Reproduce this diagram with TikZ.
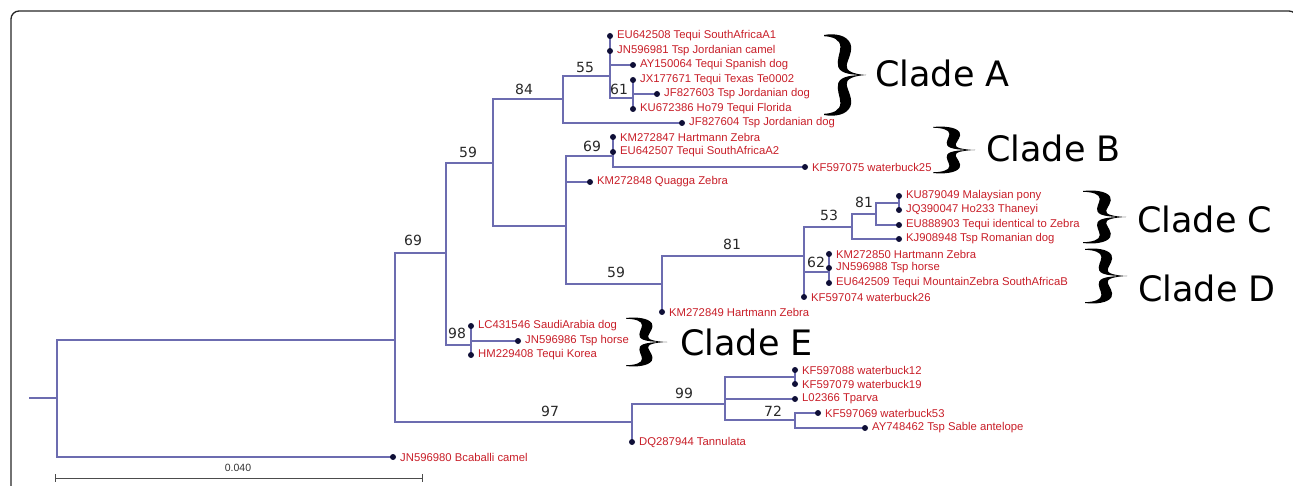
\documentclass[tikz,border=0pt]{standalone}
\usepackage{fontspec}
\newfontfamily\labfont{Liberation Sans}
\newfontfamily\numfont{DejaVu Sans}
\definecolor{treec}{RGB}{108,108,176}
\definecolor{dotc}{RGB}{15,15,55}
\definecolor{labc}{RGB}{200,30,40}
\definecolor{numc}{RGB}{40,40,40}
\tikzset{
 branch/.style={draw=treec, line width=1.15pt},
 leafdot/.style={circle, fill=dotc, inner sep=0pt, minimum size=6pt},
 leaflab/.style={anchor=west, inner sep=0pt, text=labc, font=\labfont\fontsize{11.3}{13}\selectfont},
 boot/.style={inner sep=0pt, text=numc, font=\numfont\fontsize{14}{16}\selectfont},
 cladelab/.style={anchor=west, inner sep=0pt, text=black, font=\numfont\fontsize{35}{40}\selectfont},
 frame/.style={draw=black!85, line width=1.3pt, rounded corners=8pt},
 scalebar/.style={draw=black!70, line width=1pt},
 scaletext/.style={inner sep=0pt, text=black!80, font=\labfont\fontsize{10.5}{12}\selectfont},
 bracefill/.style={fill=black},
}
\newcommand{\bracearm}{%
 (0,-1) .. controls (0.25,-1.05) and (0.55,-1.0) .. (0.63,-0.78)
 .. controls (0.69,-0.6) and (0.57,-0.4) .. (0.54,-0.25)
 .. controls (0.51,-0.1) and (0.7,-0.02) .. (1,0)
 .. controls (0.7,0.0) and (0.4,-0.02) .. (0.34,-0.2)
 .. controls (0.29,-0.36) and (0.39,-0.55) .. (0.39,-0.7)
 .. controls (0.39,-0.88) and (0.22,-0.96) .. (0,-0.97) -- cycle}
\newcommand{\cladebrace}[4]{%
 \begin{scope}[shift={(#1,#2)}, xscale=#3, yscale=#4]
 \fill[bracefill] \bracearm;
 \begin{scope}[yscale=-1]
 \fill[bracefill] \bracearm;
 \end{scope}
 \end{scope}}
\def\leaves{L1/610/36/EU642508 Tequi SouthAfricaA1,
L2/610/51/JN596981 Tsp Jordanian camel,
L3/633/65/AY150064 Tequi Spanish dog,
L4/633/80/JX177671 Tequi Texas Te0002,
L5/657/94/JF827603 Tsp Jordanian dog,
L6/633/109/KU672386 Ho79 Tequi Florida,
L7/682/123/JF827604 Tsp Jordanian dog,
L8/613/137/KM272847 Hartmann Zebra,
L9/613/152/EU642507 Tequi SouthAfricaA2,
L10/805/167/KF597075 waterbuck25,
L11/590/182/KM272848 Quagga Zebra,
L12/899/196/KU879049 Malaysian pony,
L13/899/210/JQ390047 Ho233 Thaneyi,
L14/899/225/EU888903 Tequi identical to Zebra,
L15/899/239/KJ908948 Tsp Romanian dog,
L16/829/254/KM272850 Hartmann Zebra,
L17/829/268/JN596988 Tsp horse,
L18/829/283/EU642509 Tequi MountainZebra SouthAfricaB,
L19/804/297/KF597074 waterbuck26,
L20/662/312/KM272849 Hartmann Zebra,
L21/471/326/LC431546 SaudiArabia dog,
L22/518/341/JN596986 Tsp horse,
L23/471/355/HM229408 Tequi Korea,
L24/795/370/KF597088 waterbuck12,
L25/795/384/KF597079 waterbuck19,
L26/795/399/L02366 Tparva,
L27/818/413/KF597069 waterbuck53,
L28/865/428/AY748462 Tsp Sable antelope,
L29/632/442/DQ287944 Tannulata,
L30/393/457/JN596980 Bcaballi camel}
\begin{document}
\begin{tikzpicture}[x=1pt,y=-1pt]
\useasboundingbox (0,0) rectangle (1293,486);
% frame
\draw[frame] (11,492) -- (11,11) -- (1297,11) -- (1297,492);
% leaf positions
\foreach \n/\x/\y/\t in \leaves { \coordinate (\n) at (\x,\y); }
% internal nodes
\coordinate (rs) at (29,398);
\coordinate (r) at (57,398);
\coordinate (n69) at (395,340);
\coordinate (n59u) at (446,253);
\coordinate (n97) at (632,422);
\coordinate (n84) at (493,163);
\coordinate (nE) at (471,345);
\coordinate (n55) at (563,99);
\coordinate (nBQ) at (566,226);
\coordinate (nAi) at (610,76);
\coordinate (n61) at (633,98);
\coordinate (nB) at (613,156);
\coordinate (n59l) at (662,284);
\coordinate (n81) at (804,256);
\coordinate (n53) at (852,227);
\coordinate (n81i) at (876,214);
\coordinate (npair) at (899,203);
\coordinate (n62) at (829,272);
\coordinate (n99) at (725,404);
\coordinate (nwp) at (795,377);
\coordinate (n72) at (795,420);
% branches
\draw[branch] (rs) -- (r);
\draw[branch] (r) |- (n69); \draw[branch] (r) |- (L30);
\draw[branch] (n69) |- (n59u); \draw[branch] (n69) |- (n97);
\draw[branch] (n59u) |- (n84); \draw[branch] (n59u) |- (nE);
\draw[branch] (n84) |- (n55); \draw[branch] (n84) |- (nBQ);
\draw[branch] (n55) |- (nAi); \draw[branch] (n55) |- (L7);
\draw[branch] (nAi) |- (L1); \draw[branch] (nAi) |- (L2);
\draw[branch] (nAi) |- (L3); \draw[branch] (nAi) |- (n61);
\draw[branch] (n61) |- (L4); \draw[branch] (n61) |- (L5); \draw[branch] (n61) |- (L6);
\draw[branch] (nBQ) |- (nB); \draw[branch] (nBQ) |- (L11); \draw[branch] (nBQ) |- (n59l);
\draw[branch] (nB) |- (L8); \draw[branch] (nB) |- (L9); \draw[branch] (nB) |- (L10);
\draw[branch] (n59l) |- (n81); \draw[branch] (n59l) |- (L20);
\draw[branch] (n81) |- (n53); \draw[branch] (n81) |- (n62); \draw[branch] (n81) |- (L19);
\draw[branch] (n53) |- (n81i); \draw[branch] (n53) |- (L15);
\draw[branch] (n81i) |- (npair); \draw[branch] (n81i) |- (L14);
\draw[branch] (npair) |- (L12); \draw[branch] (npair) |- (L13);
\draw[branch] (n62) |- (L16); \draw[branch] (n62) |- (L17); \draw[branch] (n62) |- (L18);
\draw[branch] (nE) |- (L21); \draw[branch] (nE) |- (L22); \draw[branch] (nE) |- (L23);
\draw[branch] (n97) |- (n99); \draw[branch] (n97) |- (L29);
\draw[branch] (n99) |- (nwp); \draw[branch] (n99) |- (L26); \draw[branch] (n99) |- (n72);
\draw[branch] (nwp) |- (L24); \draw[branch] (nwp) |- (L25);
\draw[branch] (n72) |- (L27); \draw[branch] (n72) |- (L28);
% leaf dots and labels
\foreach \n/\x/\y/\t in \leaves {
 \node[leafdot] (d\n) at (\n) {};
 \node[leaflab] (t\n) at ([xshift=7pt]\n) {\t};
}
% bootstrap values
\node[boot] (b69) at (413,240) {69};
\node[boot] (b59u) at (468,152) {59};
\node[boot] (b84) at (524,89) {84};
\node[boot] (b55) at (585,67) {55};
\node[boot] (b61) at (619,89) {61};
\node[boot] (b69B) at (592,146) {69};
\node[boot] (b59l) at (616,272) {59};
\node[boot] (b81) at (732,244) {81};
\node[boot] (b53) at (829,215) {53};
\node[boot] (b81i) at (864,202) {81};
\node[boot] (b62) at (816,262) {62};
\node[boot] (b98) at (457,333) {98};
\node[boot] (b97) at (550,411) {97};
\node[boot] (b99) at (684,393) {99};
\node[boot] (b72) at (773,411) {72};
% clade braces and labels
\cladebrace{824}{75}{42}{40}
\cladebrace{933}{150}{42}{23}
\cladebrace{1083}{217}{43}{26}
\cladebrace{1085}{276}{42}{27}
\cladebrace{626}{342}{41}{24}
\node[cladelab] (cA) at (875,73) {Clade A};
\node[cladelab] (cB) at (986,148) {Clade B};
\node[cladelab] (cC) at (1137,219) {Clade C};
\node[cladelab] (cD) at (1138,288) {Clade D};
\node[cladelab] (cE) at (680,342) {Clade E};
% scale bar
\coordinate (sbL) at (55,478);
\coordinate (sbR) at (422,478);
\draw[scalebar] (sbL) -- (sbR);
\draw[scalebar] ([yshift=4pt]sbL) -- ([yshift=-4pt]sbL);
\draw[scalebar] ([yshift=4pt]sbR) -- ([yshift=-4pt]sbR);
\node[scaletext] (sbt) at (238,468) {0.040};
\end{tikzpicture}
\end{document}
